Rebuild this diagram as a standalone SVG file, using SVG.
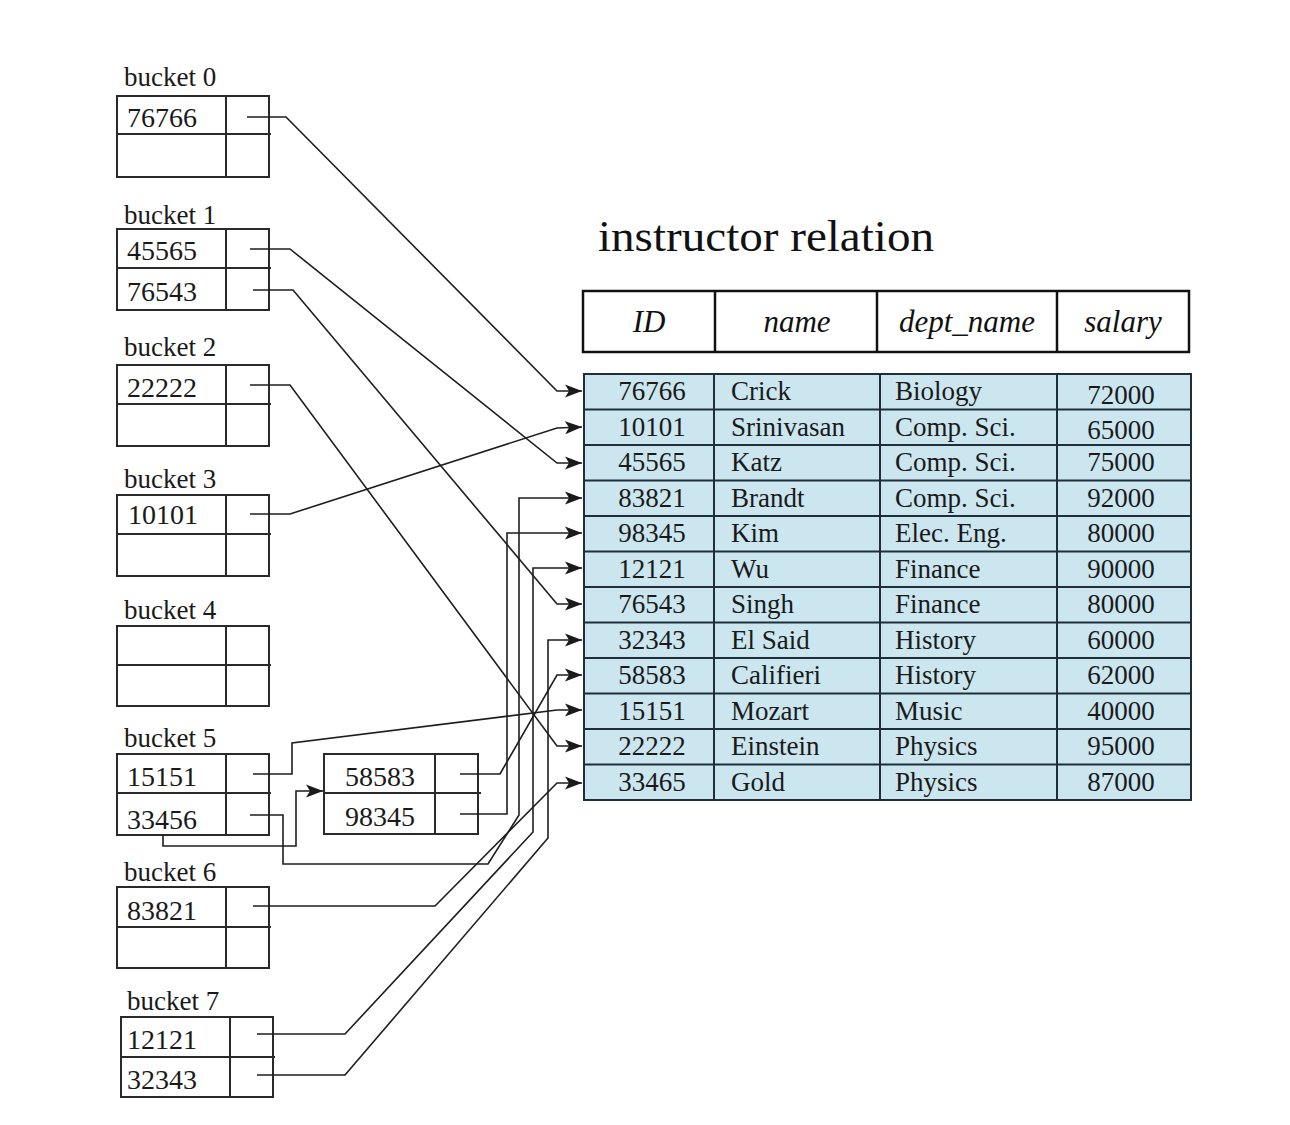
<svg xmlns="http://www.w3.org/2000/svg" width="1290" height="1125" viewBox="0 0 1290 1125">
<defs>
<marker id="arr" markerUnits="userSpaceOnUse" markerWidth="18" markerHeight="14" refX="17" refY="7" orient="auto">
<path d="M0,0.5 L17,7 L0,13.5 L4,7 z" fill="#1a1a1a"/>
</marker>
<style>
.box{fill:none;stroke:#2a2a2a;stroke-width:2}
.lbl{font-family:"Liberation Serif","Times New Roman",serif;font-size:27px;fill:#1a1a1a}
.num{font-family:"Liberation Serif","Times New Roman",serif;font-size:28px;fill:#1a1a1a}
.hdr{font-family:"Liberation Serif","Times New Roman",serif;font-size:31px;font-style:italic;fill:#111;text-anchor:middle}
.td{font-family:"Liberation Serif","Times New Roman",serif;font-size:27px;fill:#1a1a1a}
.tc{text-anchor:middle}
.ttl{font-family:"Liberation Serif","Times New Roman",serif;font-size:44px;fill:#111}
.con{fill:none;stroke:#1e1e1e;stroke-width:1.6}
.tbl{fill:#cbe6ef;stroke:#1f2e3a;stroke-width:2}
.tln{stroke:#1f2e3a;stroke-width:2}
</style>
</defs>
<rect width="1290" height="1125" fill="#ffffff"/>

<g id="bucket0">
<text class="lbl" x="124" y="86">bucket 0</text>
<rect class="box" x="117" y="96" width="152" height="81"/>
<line class="box" x1="226" y1="96" x2="226" y2="177"/>
<line class="box" x1="117" y1="134" x2="271" y2="134"/>
<text class="num" x="127" y="127">76766</text>
</g>
<g id="bucket1">
<text class="lbl" x="124" y="224">bucket 1</text>
<rect class="box" x="117" y="229" width="152" height="81"/>
<line class="box" x1="226" y1="229" x2="226" y2="310"/>
<line class="box" x1="117" y1="268" x2="271" y2="268"/>
<text class="num" x="127" y="260">45565</text>
<text class="num" x="127" y="301">76543</text>
</g>
<g id="bucket2">
<text class="lbl" x="124" y="356">bucket 2</text>
<rect class="box" x="117" y="365" width="152" height="81"/>
<line class="box" x1="226" y1="365" x2="226" y2="446"/>
<line class="box" x1="117" y1="404" x2="271" y2="404"/>
<text class="num" x="127" y="397">22222</text>
</g>
<g id="bucket3">
<text class="lbl" x="124" y="488">bucket 3</text>
<rect class="box" x="117" y="495" width="152" height="81"/>
<line class="box" x1="226" y1="495" x2="226" y2="576"/>
<line class="box" x1="117" y1="534" x2="271" y2="534"/>
<text class="num" x="128" y="524">10101</text>
</g>
<g id="bucket4">
<text class="lbl" x="124" y="619">bucket 4</text>
<rect class="box" x="117" y="626" width="152" height="80"/>
<line class="box" x1="226" y1="626" x2="226" y2="706"/>
<line class="box" x1="117" y1="665" x2="271" y2="665"/>
</g>
<g id="bucket5">
<text class="lbl" x="124" y="747">bucket 5</text>
<rect class="box" x="117" y="754" width="152" height="81"/>
<line class="box" x1="226" y1="754" x2="226" y2="835"/>
<line class="box" x1="117" y1="793" x2="271" y2="793"/>
<text class="num" x="127" y="786">15151</text>
<text class="num" x="127" y="829">33456</text>
</g>
<g id="overflow5">
<rect class="box" x="324" y="754" width="154" height="80"/>
<line class="box" x1="435" y1="754" x2="435" y2="834"/>
<line class="box" x1="324" y1="793" x2="481" y2="793"/>
<text class="num" x="345" y="786">58583</text>
<text class="num" x="345" y="826">98345</text>
</g>
<g id="bucket6">
<text class="lbl" x="124" y="881">bucket 6</text>
<rect class="box" x="117" y="887" width="152" height="81"/>
<line class="box" x1="226" y1="887" x2="226" y2="968"/>
<line class="box" x1="117" y1="927" x2="271" y2="927"/>
<text class="num" x="127" y="920">83821</text>
</g>
<g id="bucket7">
<text class="lbl" x="127" y="1010">bucket 7</text>
<rect class="box" x="121" y="1017" width="152" height="80"/>
<line class="box" x1="230" y1="1017" x2="230" y2="1097"/>
<line class="box" x1="121" y1="1057" x2="275" y2="1057"/>
<text class="num" x="127" y="1049">12121</text>
<text class="num" x="127" y="1089">32343</text>
</g>

<g id="title">
<text class="ttl" x="598" y="251" textLength="336" lengthAdjust="spacingAndGlyphs">instructor relation</text>
</g>

<g id="table-header">
<rect x="583" y="291" width="606" height="61" fill="#ffffff" stroke="#111" stroke-width="2.5"/>
<line x1="715" y1="291" x2="715" y2="352" stroke="#111" stroke-width="2.5"/>
<line x1="877" y1="291" x2="877" y2="352" stroke="#111" stroke-width="2.5"/>
<line x1="1057" y1="291" x2="1057" y2="352" stroke="#111" stroke-width="2.5"/>
<text class="hdr" x="649" y="332">ID</text>
<text class="hdr" x="797" y="332">name</text>
<text class="hdr" x="967" y="332">dept_name</text>
<text class="hdr" x="1123" y="332">salary</text>
</g>

<g id="table-rows">
<rect class="tbl" x="584" y="374" width="607" height="426"/>
<line class="tln" x1="584" y1="409.5" x2="1191" y2="409.5"/>
<line class="tln" x1="584" y1="445" x2="1191" y2="445"/>
<line class="tln" x1="584" y1="480.5" x2="1191" y2="480.5"/>
<line class="tln" x1="584" y1="516" x2="1191" y2="516"/>
<line class="tln" x1="584" y1="551.5" x2="1191" y2="551.5"/>
<line class="tln" x1="584" y1="587" x2="1191" y2="587"/>
<line class="tln" x1="584" y1="622.5" x2="1191" y2="622.5"/>
<line class="tln" x1="584" y1="658" x2="1191" y2="658"/>
<line class="tln" x1="584" y1="693.5" x2="1191" y2="693.5"/>
<line class="tln" x1="584" y1="729" x2="1191" y2="729"/>
<line class="tln" x1="584" y1="764.5" x2="1191" y2="764.5"/>
<line class="tln" x1="714" y1="374" x2="714" y2="800"/>
<line class="tln" x1="880" y1="374" x2="880" y2="800"/>
<line class="tln" x1="1057" y1="374" x2="1057" y2="800"/>

<g class="td">
<text class="tc" x="652" y="400">76766</text><text x="731" y="400">Crick</text><text x="895" y="400">Biology</text><text class="tc" x="1121" y="404">72000</text>
<text class="tc" x="652" y="436">10101</text><text x="731" y="436">Srinivasan</text><text x="895" y="436">Comp. Sci.</text><text class="tc" x="1121" y="439">65000</text>
<text class="tc" x="652" y="471">45565</text><text x="731" y="471">Katz</text><text x="895" y="471">Comp. Sci.</text><text class="tc" x="1121" y="471">75000</text>
<text class="tc" x="652" y="507">83821</text><text x="731" y="507">Brandt</text><text x="895" y="507">Comp. Sci.</text><text class="tc" x="1121" y="507">92000</text>
<text class="tc" x="652" y="542">98345</text><text x="731" y="542">Kim</text><text x="895" y="542">Elec. Eng.</text><text class="tc" x="1121" y="542">80000</text>
<text class="tc" x="652" y="578">12121</text><text x="731" y="578">Wu</text><text x="895" y="578">Finance</text><text class="tc" x="1121" y="578">90000</text>
<text class="tc" x="652" y="613">76543</text><text x="731" y="613">Singh</text><text x="895" y="613">Finance</text><text class="tc" x="1121" y="613">80000</text>
<text class="tc" x="652" y="649">32343</text><text x="731" y="649">El Said</text><text x="895" y="649">History</text><text class="tc" x="1121" y="649">60000</text>
<text class="tc" x="652" y="684">58583</text><text x="731" y="684">Califieri</text><text x="895" y="684">History</text><text class="tc" x="1121" y="684">62000</text>
<text class="tc" x="652" y="720">15151</text><text x="731" y="720">Mozart</text><text x="895" y="720">Music</text><text class="tc" x="1121" y="720">40000</text>
<text class="tc" x="652" y="755">22222</text><text x="731" y="755">Einstein</text><text x="895" y="755">Physics</text><text class="tc" x="1121" y="755">95000</text>
<text class="tc" x="652" y="791">33465</text><text x="731" y="791">Gold</text><text x="895" y="791">Physics</text><text class="tc" x="1121" y="791">87000</text>
</g>
</g>

<g id="connectors">
<polyline class="con" points="247,117 286,117 557,391 582,391" marker-end="url(#arr)"/>
<polyline class="con" points="250,249 290,249 557,463 582,463" marker-end="url(#arr)"/>
<polyline class="con" points="253,290 293,290 557,604 582,604" marker-end="url(#arr)"/>
<polyline class="con" points="250,385 290,385 557,746 582,746" marker-end="url(#arr)"/>
<polyline class="con" points="250,514 290,514 557,428 582,427" marker-end="url(#arr)"/>
<polyline class="con" points="253,774 292,774 292,743 557,710 582,710" marker-end="url(#arr)"/>
<polyline class="con" points="250,815 283,815 283,864 488,864 519,815 519,498 582,498" marker-end="url(#arr)"/>
<polyline class="con" points="163,835 163,846 296,846 296,791 323,791" marker-end="url(#arr)"/>
<polyline class="con" points="460,774 500,774 557,675 582,675" marker-end="url(#arr)"/>
<polyline class="con" points="460,814 507,814 507,533 582,533" marker-end="url(#arr)"/>
<polyline class="con" points="253,906 435,906 557,783 582,783" marker-end="url(#arr)"/>
<polyline class="con" points="257,1034 345,1034 533,832 533,568 582,568" marker-end="url(#arr)"/>
<polyline class="con" points="257,1075 345,1075 548,838 548,640 582,640" marker-end="url(#arr)"/>
</g>
</svg>
